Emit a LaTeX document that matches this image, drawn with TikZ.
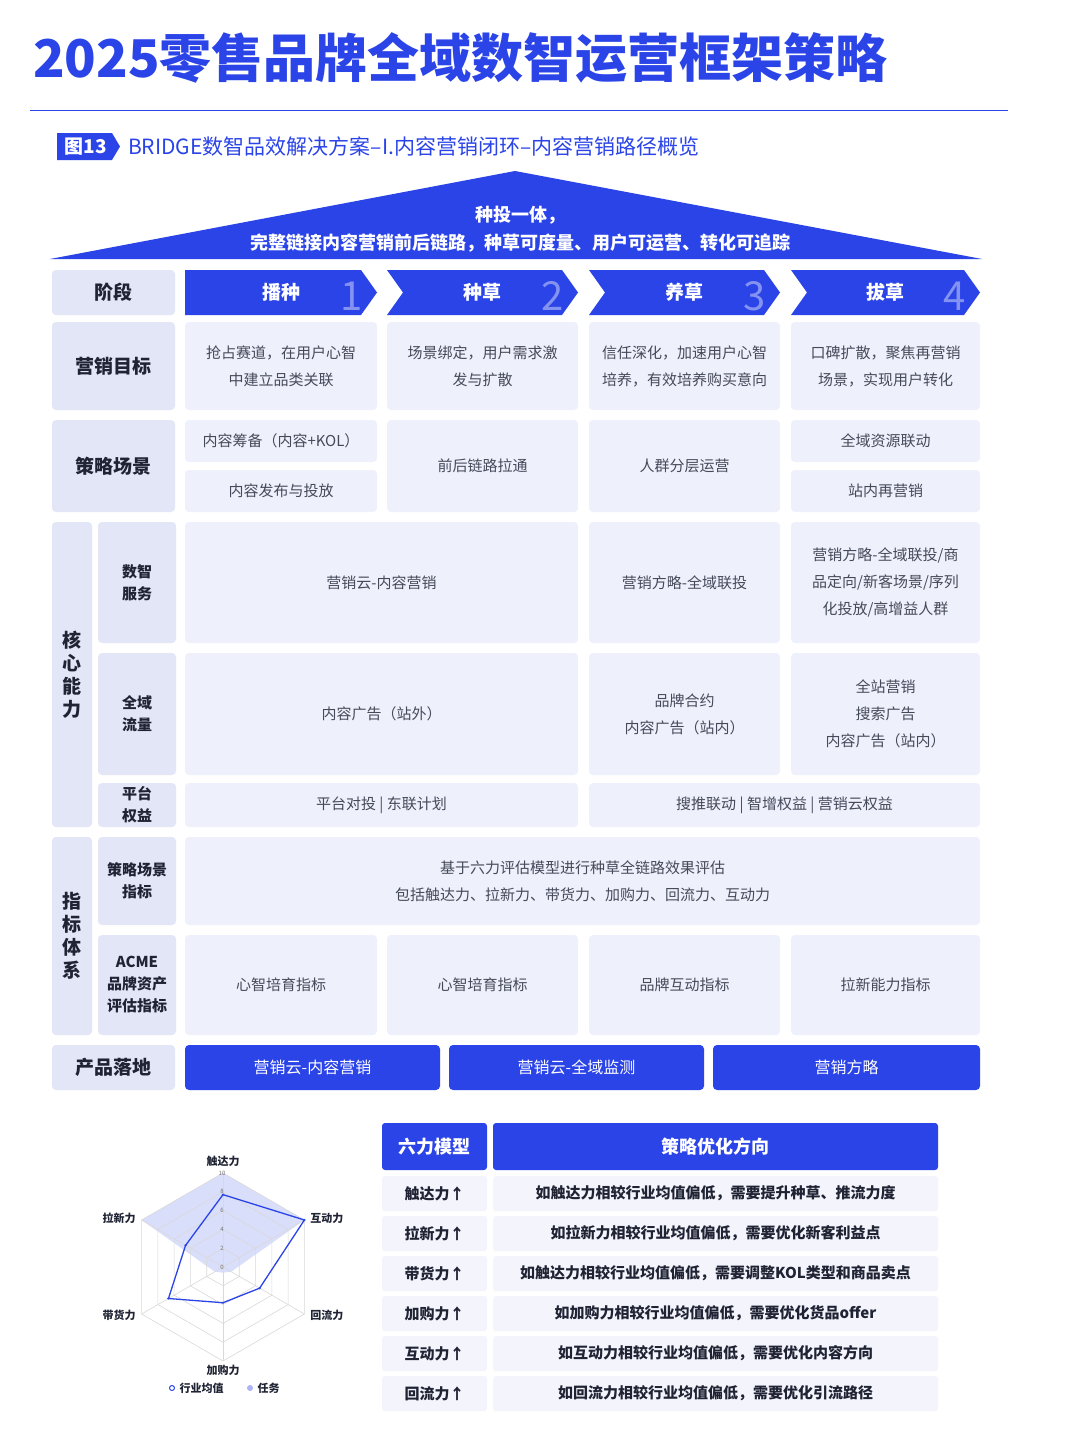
\documentclass[tikz,border=0pt]{standalone}
\usepackage{fontspec}
\setmainfont{Noto Sans CJK SC}
\definecolor{blu}{HTML}{2B44E8}
\definecolor{cellc}{HTML}{EEF0FB}
\definecolor{labc}{HTML}{E2E6F7}
\definecolor{txt}{HTML}{454A5A}
\definecolor{dark}{HTML}{1F2333}
\tikzset{
 cell/.style={fill=cellc,rounded corners=4pt,inner sep=2pt,align=center,text=txt,font=\fontsize{15}{27}\selectfont},
 lab/.style={fill=labc,rounded corners=4pt,inner sep=2pt,align=center,text=dark,font=\fontsize{19}{23}\selectfont\bfseries},
 sub/.style={fill=labc,rounded corners=4pt,inner sep=1pt,align=center,text=dark,font=\fontsize{15}{22}\selectfont\bfseries},
 bbox/.style={fill=blu,rounded corners=4pt,inner sep=2pt,align=center,text=white,font=\fontsize{16}{20}\selectfont},
 hdr/.style={fill=blu,rounded corners=3pt,inner sep=2pt,align=center,text=white,font=\fontsize{18}{20}\selectfont\bfseries},
 trow/.style={fill=cellc!70,rounded corners=3pt,inner sep=2pt,align=center,text=dark,font=\fontsize{15}{18}\selectfont\bfseries},
 chev/.style={fill=blu},
 chevtxt/.style={text=white,font=\fontsize{19}{20}\selectfont\bfseries},
 bignum/.style={text=white!70!blu,font=\fontsize{40}{40}\selectfont,opacity=0.6},
 rlab/.style={text=dark,font=\fontsize{11}{12}\selectfont\bfseries},
}
\newcommand\bx[7]{\node[#1,minimum width=#5pt-#3pt,minimum height=#6pt-#4pt] (#2) at ({(#3+#5)/2},{(#4+#6)/2}) {#7};}
\newcommand\chevr[6]{% name x1 x2 text num first?
 \ifnum#6=1
 \fill[chev] (#2,270) -- (#3-16,270) -- (#3,292.5) -- (#3-16,315) -- (#2,315) -- cycle;
 \else
 \fill[chev] (#2,270) -- (#3-16,270) -- (#3,292.5) -- (#3-16,315) -- (#2,315) -- (#2+16,292.5) -- cycle;
 \fi
 \node[bignum] (#1n) at (#3-25,296) {#5};
 \node[chevtxt] (#1) at ({(#2+#3)/2},292.5) {#4};}
\begin{document}
\begin{tikzpicture}[x=1pt,y=-1pt]
\useasboundingbox[fill=white] (0,0) rectangle (1080,1437);
% title
\node[anchor=west,text=blu,font=\fontsize{52}{56}\selectfont\bfseries,inner sep=0] (title) at (33,58) {2025零售品牌全域数智运营框架策略};
\draw[blu,line width=1pt] (30,110) -- (1008,110);
\fill[blu] (57,133) -- (112,133) -- (120,146.5) -- (112,160) -- (57,160) -- cycle;
\node[text=white,font=\fontsize{19}{20}\selectfont\bfseries,inner sep=0] (fig) at (86,146.5) {图13};
\node[anchor=west,text=blu,font=\fontsize{21}{22}\selectfont,inner sep=0] (figt) at (128,146.5) {BRIDGE数智品效解决方案–I.内容营销闭环–内容营销路径概览};
% roof
\fill[blu] (515,171) -- (982,259) -- (50,259) -- cycle;
\node[text=white,align=center,font=\fontsize{18}{28}\selectfont\bfseries] (roof) at (520,229) {种投一体，\\完整链接内容营销前后链路，种草可度量、用户可运营、转化可追踪};
% stage row
\bx{lab}{l1}{52}{270}{175}{315}{阶段}
\chevr{c1}{185}{377}{播种}{1}{1}
\chevr{c2}{387}{578}{种草}{2}{0}
\chevr{c3}{589}{780}{养草}{3}{0}
\chevr{c4}{791}{980}{拔草}{4}{0}
% goals
\bx{lab}{l2}{52}{322}{175}{410}{营销目标}
\bx{cell}{g1}{185}{322}{377}{410}{抢占赛道，在用户心智\\中建立品类关联}
\bx{cell}{g2}{387}{322}{578}{410}{场景绑定，用户需求激\\发与扩散}
\bx{cell}{g3}{589}{322}{780}{410}{信任深化，加速用户心智\\培养，有效培养购买意向}
\bx{cell}{g4}{791}{322}{980}{410}{口碑扩散，聚焦再营销\\场景，实现用户转化}
% strategy
\bx{lab}{l3}{52}{420}{175}{512}{策略场景}
\bx{cell}{s1a}{185}{420}{377}{462}{内容筹备（内容+KOL）}
\bx{cell}{s1b}{185}{470}{377}{512}{内容发布与投放}
\bx{cell}{s2}{387}{420}{578}{512}{前后链路拉通}
\bx{cell}{s3}{589}{420}{780}{512}{人群分层运营}
\bx{cell}{s4a}{791}{420}{980}{462}{全域资源联动}
\bx{cell}{s4b}{791}{470}{980}{512}{站内再营销}
% core
\bx{lab}{l4}{52}{522}{92}{827}{核\\心\\能\\力}
\bx{sub}{k1}{98}{522}{176}{643}{数智\\服务}
\bx{sub}{k2}{98}{653}{176}{775}{全域\\流量}
\bx{sub}{k3}{98}{783}{176}{827}{平台\\权益}
\bx{cell}{a1}{185}{522}{578}{643}{营销云-内容营销}
\bx{cell}{a2}{589}{522}{780}{643}{营销方略-全域联投}
\bx{cell}{a3}{791}{522}{980}{643}{营销方略-全域联投/商\\品定向/新客场景/序列\\化投放/高增益人群}
\bx{cell}{b1}{185}{653}{578}{775}{内容广告（站外）}
\bx{cell}{b2}{589}{653}{780}{775}{品牌合约\\内容广告（站内）}
\bx{cell}{b3}{791}{653}{980}{775}{全站营销\\搜索广告\\内容广告（站内）}
\bx{cell}{p1}{185}{783}{578}{827}{平台对投 | 东联计划}
\bx{cell}{p2}{589}{783}{980}{827}{搜推联动 | 智增权益 | 营销云权益}
% metrics
\bx{lab}{l5}{52}{837}{92}{1035}{指\\标\\体\\系}
\bx{sub}{m1}{98}{837}{176}{925}{策略场景\\指标}
\bx{sub}{m2}{98}{935}{176}{1035}{ACME\\品牌资产\\评估指标}
\bx{cell}{e0}{185}{837}{980}{925}{基于六力评估模型进行种草全链路效果评估\\包括触达力、拉新力、带货力、加购力、回流力、互动力}
\bx{cell}{e1}{185}{935}{377}{1035}{心智培育指标}
\bx{cell}{e2}{387}{935}{578}{1035}{心智培育指标}
\bx{cell}{e3}{589}{935}{780}{1035}{品牌互动指标}
\bx{cell}{e4}{791}{935}{980}{1035}{拉新能力指标}
% product
\bx{lab}{l6}{52}{1045}{175}{1090}{产品落地}
\bx{bbox}{pr1}{185}{1045}{440}{1090}{营销云-内容营销}
\bx{bbox}{pr2}{449}{1045}{704}{1090}{营销云-全域监测}
\bx{bbox}{pr3}{713}{1045}{980}{1090}{营销方略}
% table
\bx{hdr}{h1}{382}{1123}{487}{1170}{六力模型}
\bx{hdr}{h2}{493}{1123}{938}{1170}{策略优化方向}
\bx{trow}{r1a}{382}{1176}{487}{1211}{触达力↑}
\bx{trow}{r1b}{493}{1176}{938}{1211}{如触达力相较行业均值偏低，需要提升种草、推流力度}
\bx{trow}{r2a}{382}{1216}{487}{1251}{拉新力↑}
\bx{trow}{r2b}{493}{1216}{938}{1251}{如拉新力相较行业均值偏低，需要优化新客利益点}
\bx{trow}{r3a}{382}{1256}{487}{1291}{带货力↑}
\bx{trow}{r3b}{493}{1256}{938}{1291}{如触达力相较行业均值偏低，需要调整KOL类型和商品卖点}
\bx{trow}{r4a}{382}{1296}{487}{1331}{加购力↑}
\bx{trow}{r4b}{493}{1296}{938}{1331}{如加购力相较行业均值偏低，需要优化货品offer}
\bx{trow}{r5a}{382}{1336}{487}{1371}{互动力↑}
\bx{trow}{r5b}{493}{1336}{938}{1371}{如互动力相较行业均值偏低，需要优化内容方向}
\bx{trow}{r6a}{382}{1376}{487}{1411}{回流力↑}
\bx{trow}{r6b}{493}{1376}{938}{1411}{如回流力相较行业均值偏低，需要优化引流路径}
% radar
\begin{scope}[shift={(223,1267)},x=9.4pt,y=9.4pt]
\fill[blu!22,opacity=0.8] (90:10) -- (30:10) -- (-30:1) -- (-90:0.6) -- (-150:1) -- (150:10) -- cycle;
\foreach \r in {2,4,6,8,10}{\draw[black!15,line width=0.6pt] (90:\r) -- (30:\r) -- (-30:\r) -- (-90:\r) -- (-150:\r) -- (150:\r) -- cycle;}
\foreach \a in {90,30,-30,-90,-150,150}{\draw[black!15,line width=0.6pt] (0,0) -- (\a:10);}
\foreach \r in {0,2,4,6,8,10}{\node[text=black!55,font=\fontsize{6}{6}\selectfont,inner sep=0] (t\r) at (-0.1,\r) {\r};}
\draw[blu,line width=1.3pt] (90:7.7) -- (30:10) -- (-30:4.5) -- (-90:3.8) -- (-150:6.7) -- (150:4.6) -- cycle;
\foreach \a/\v in {90/7.7,30/10,-30/4.5,-90/3.8,-150/6.7,150/4.6}{\fill[blu] (\a:\v) circle (0.13);}
\node[rlab] (ax1) at (0,11.2) {触达力};
\node[rlab,anchor=west] (ax2) at (30:10.3) {互动力};
\node[rlab,anchor=west] (ax3) at (-30:10.3) {回流力};
\node[rlab] (ax4) at (0,-11) {加购力};
\node[rlab,anchor=east] (ax5) at (-150:10.3) {带货力};
\node[rlab,anchor=east] (ax6) at (150:10.3) {拉新力};
\end{scope}
\draw[blu,line width=1pt] (172,1388) circle (2.5pt);
\node[rlab,anchor=west] (lg1) at (176,1388) {行业均值};
\fill[blu!40] (250,1388) circle (3pt);
\node[rlab,anchor=west] (lg2) at (254,1388) {任务};
\end{tikzpicture}
\end{document}
